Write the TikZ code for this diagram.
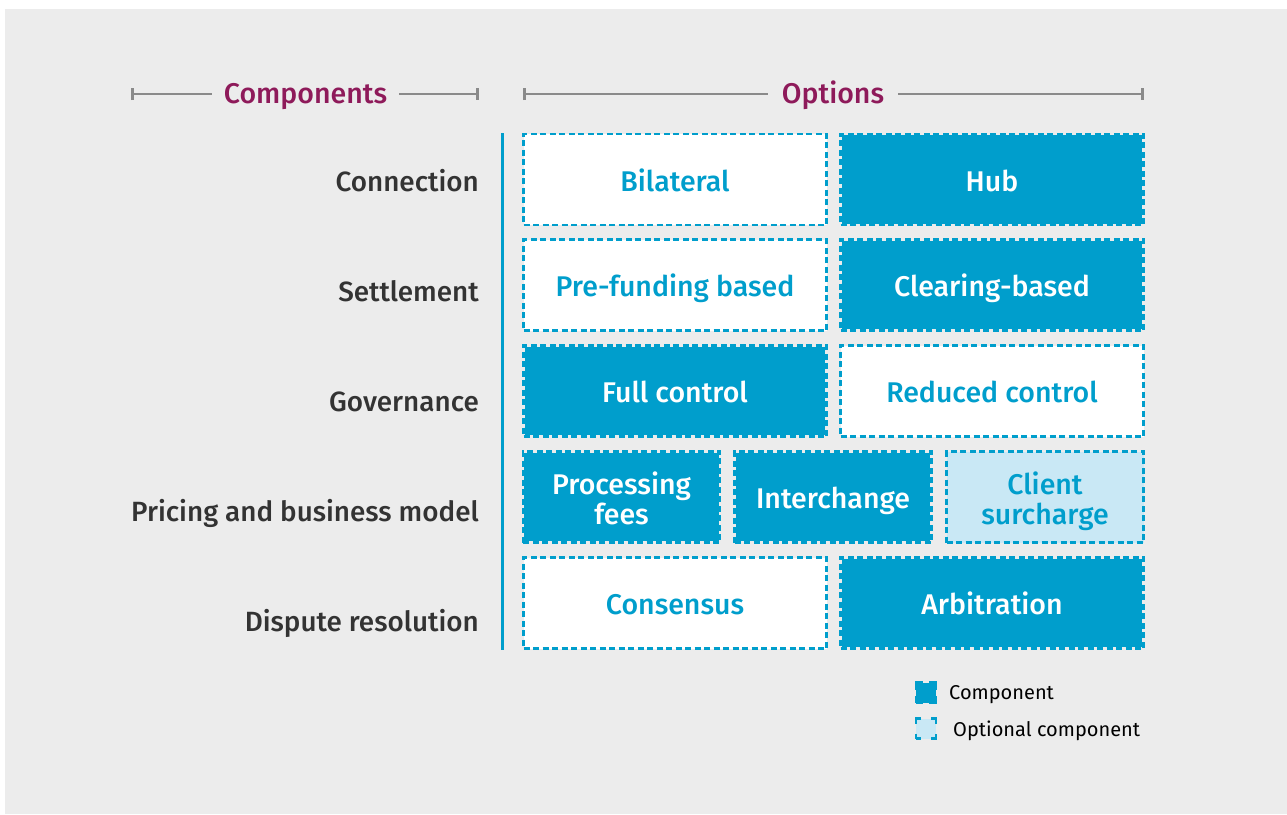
\documentclass[tikz,border=0pt]{standalone}
\usepackage{fontspec}
\setmainfont{Fira Sans}[BoldFont={Fira Sans Medium}]
\usetikzlibrary{arrows.meta}
\definecolor{bggray}{RGB}{236,236,236}
\definecolor{cblue}{RGB}{0,158,204}
\definecolor{lblue}{RGB}{201,232,245}
\definecolor{magen}{RGB}{142,26,90}
\definecolor{hgray}{RGB}{138,138,138}
\definecolor{labtxt}{RGB}{51,51,51}
\begin{document}
\begin{tikzpicture}[x=1pt,y=-1pt,
  bigfont/.style={font=\fontsize{28.5}{30}\selectfont\bfseries},
  boxbase/.style={rectangle, inner sep=0pt, line width=2.2pt, dash pattern=on 6pt off 3.5pt, draw=cblue,
    bigfont, align=center, minimum height=91pt, text height=23.6pt, text depth=0pt},
  opt/.style={boxbase, fill=white, text=cblue},
  optl/.style={boxbase, fill=lblue, text=cblue},
  comp/.style={boxbase, text=white,
    path picture={\fill[cblue] ([shift={(1.1pt,-1.1pt)}]path picture bounding box.north west)
      rectangle ([shift={(-1.1pt,1.1pt)}]path picture bounding box.south east);}},
  boxtxt/.style={inner sep=0pt, bigfont, align=center},
  wide/.style={minimum width=303pt},
  narrow/.style={minimum width=197pt},
  lab/.style={anchor=east, inner sep=0pt, text=labtxt, font=\fontsize{27.85}{30}\selectfont\bfseries,
    text height=19.2pt, text depth=0pt},
  hdr/.style={inner sep=0pt, text=magen, font=\fontsize{28.5}{30}\selectfont\bfseries, text height=19.6pt, text depth=0pt},
  hline/.style={draw=hgray, line width=2.6pt},
  leg/.style={anchor=west, inner sep=0pt, text=black, font=\fontsize{20}{24}\selectfont, text height=14pt, text depth=0pt}
]
\useasboundingbox (0,0) rectangle (1287,814);
\fill[bggray] (5,9) rectangle (1287,814);

% headers
\node[hdr] (hc) at (305.5,93.5) {Components};
\node[hdr] (ho) at (833,93.5) {Options};
\coordinate (hcl) at (131,94);
\coordinate (hcr) at (479,94);
\coordinate (hol) at (523,94);
\coordinate (hor) at (1144,94);
\draw[hline, {Bar[width=12pt,line width=2.6pt]}-] (hcl) -- ([xshift=-12pt]hc.west |- hcl);
\draw[hline, -{Bar[width=12pt,line width=2.6pt]}] ([xshift=12pt]hc.east |- hcr) -- (hcr);
\draw[hline, {Bar[width=12pt,line width=2.6pt]}-] (hol) -- ([xshift=-14pt]ho.west |- hol);
\draw[hline, -{Bar[width=12pt,line width=2.6pt]}] ([xshift=14pt]ho.east |- hor) -- (hor);

% vertical blue rule
\coordinate (vt) at (502,133);
\coordinate (vb) at (502,650);
\draw[cblue, line width=3pt] (vt) -- (vb);

% row labels
\node[lab] (l1) at (479,182) {Connection};
\node[lab] (l2) at (479,292) {Settlement};
\node[lab] (l3) at (479,402) {Governance};
\node[lab] (l4) at (479,512) {Pricing and business model};
\node[lab] (l5) at (479,622) {Dispute resolution};

% boxes
\node[opt, wide]  (bil) at (675,179.5) {Bilateral};
\node[comp, wide] (hub) at (992,179.5) {Hub};
\node[opt, wide]  (pre) at (675,285) {Pre-funding based};
\node[comp, wide] (clr) at (992,285) {Clearing-based};
\node[comp, wide] (ful) at (675,391) {Full control};
\node[opt, wide]  (red) at (992,391) {Reduced control};
\node[comp, narrow] (pro) at (621.5,497) {};
\node[boxtxt, text=white] (prot) at ([yshift=-1pt]pro.center) {Processing\\fees};
\node[comp, narrow] (int) at (833,497) {Interchange};
\node[optl, narrow] (cli) at (1045,497) {};
\node[boxtxt, text=cblue] (clit) at ([yshift=-4pt]cli.center) {Client\\surcharge};
\node[opt, wide]  (con) at (675,603) {Consensus};
\node[comp, wide] (arb) at (992,603) {Arbitration};

% legend
\node[rectangle, minimum size=20pt, inner sep=0pt, fill=cblue, draw=cblue, line width=2.4pt,
  dash pattern=on 14pt off 6pt, dash phase=7pt] (lgc) at (926,692.5) {};
\node[rectangle, minimum size=20pt, inner sep=0pt, fill=lblue, draw=cblue, line width=2.4pt,
  dash pattern=on 10pt off 10pt, dash phase=5pt] (lgo) at (926,728.5) {};
\node[leg] (lgct) at (949,692) {Component};
\node[leg] (lgot) at (953,729) {Optional component};
\end{tikzpicture}
\end{document}
